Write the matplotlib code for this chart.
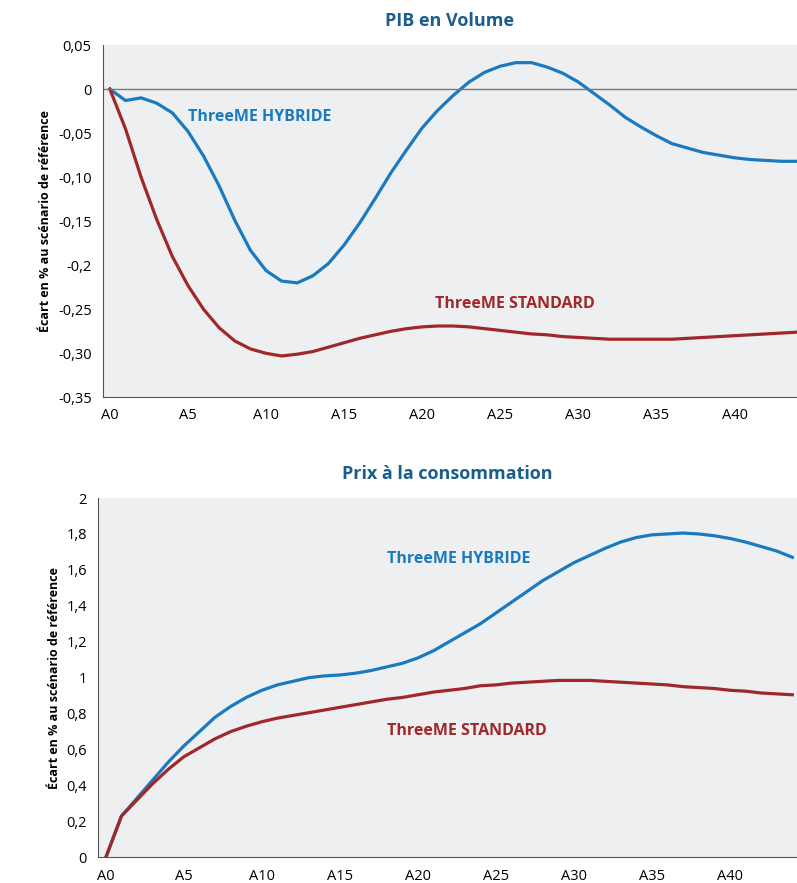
import numpy as np
import matplotlib.pyplot as plt

years = np.arange(45)
pib_hybride = [0, -0.013, -0.01, -0.016, -0.027, -0.048, -0.076, -0.11, -0.149, -0.183,
               -0.206, -0.218, -0.22, -0.212, -0.198, -0.177, -0.152, -0.124, -0.095, -0.069,
               -0.044, -0.024, -0.007, 0.008, 0.019, 0.026, 0.03, 0.03, 0.025, 0.018,
               0.008, -0.005, -0.018, -0.032, -0.043, -0.053, -0.062, -0.067, -0.072, -0.075,
               -0.078, -0.08, -0.081, -0.082, -0.082]
pib_standard = [0, -0.045, -0.1, -0.148, -0.19, -0.223, -0.25, -0.271, -0.286, -0.295,
                -0.3, -0.303, -0.301, -0.298, -0.293, -0.288, -0.283, -0.279, -0.275, -0.272,
                -0.27, -0.269, -0.269, -0.27, -0.272, -0.274, -0.276, -0.278, -0.279, -0.281,
                -0.282, -0.283, -0.284, -0.284, -0.284, -0.284, -0.284, -0.283, -0.282, -0.281,
                -0.28, -0.279, -0.278, -0.277, -0.276]
prix_hybride = [0, 0.23, 0.33, 0.43, 0.53, 0.62, 0.70, 0.78, 0.84, 0.89,
                0.93, 0.96, 0.98, 1.0, 1.01, 1.015, 1.025, 1.04, 1.06, 1.08,
                1.11, 1.15, 1.20, 1.25, 1.30, 1.36, 1.42, 1.48, 1.54, 1.59,
                1.64, 1.68, 1.72, 1.755, 1.78, 1.795, 1.80, 1.805, 1.80, 1.79,
                1.775, 1.755, 1.73, 1.705, 1.67]
prix_standard = [0, 0.23, 0.32, 0.41, 0.49, 0.56, 0.61, 0.66, 0.70, 0.73,
                 0.755, 0.775, 0.79, 0.805, 0.82, 0.835, 0.85, 0.865, 0.88, 0.89,
                 0.905, 0.92, 0.93, 0.94, 0.955, 0.96, 0.97, 0.975, 0.98, 0.985,
                 0.985, 0.985, 0.98, 0.975, 0.97, 0.965, 0.96, 0.95, 0.945, 0.94,
                 0.93, 0.925, 0.915, 0.91, 0.905]
pib_ticks = ["-0,35", "-0,30", "-0,25", "-0,2", "-0,15", "-0,10", "-0,05", "0", "0,05"]
prix_ticks = ["0", "0,2", "0,4", "0,6", "0,8", "1", "1,2", "1,4", "1,6", "1,8", "2"]

BLUE = "#1a7ac0"
RED = "#a0282a"
TITLE = "#1b5e8c"
plt.rcParams["font.family"] = ["Open Sans", "DejaVu Sans"]

fig = plt.figure(figsize=(7.97, 8.83), dpi=100)
ax1 = fig.add_axes([0.129, 0.550, 0.871, 0.399])
ax2 = fig.add_axes([0.123, 0.029, 0.877, 0.407])

xticks = np.arange(0, 41, 5)
for ax in (ax1, ax2):
    ax.set_facecolor("#eeeff0")
    ax.spines[["top", "right"]].set_visible(False)
    ax.spines[["left", "bottom"]].set_color("#555555")
    ax.set_xticks(xticks)
    ax.set_xticklabels(["A%d" % t for t in xticks], fontsize=10.5)
    ax.tick_params(labelsize=10.5, length=0, pad=8)
    ax.set_ylabel("Écart en % au scénario de référence", fontsize=9, fontweight="bold")

ax1.plot(years, pib_hybride, color=BLUE, lw=2.3)
ax1.plot(years, pib_standard, color=RED, lw=2.3)
ax1.axhline(0, color="#777777", lw=1)
ax1.set_xlim(-0.45, 44)
ax1.set_ylim(-0.35, 0.05)
ax1.set_yticks(np.linspace(-0.35, 0.05, 9))
ax1.set_yticklabels(pib_ticks)
ax1.set_title("PIB en Volume", color=TITLE, fontsize=13, fontweight="bold", pad=14)
ax1.text(5, -0.036, "ThreeME HYBRIDE", color=BLUE, fontsize=11.5, fontweight="bold")
ax1.text(20.8, -0.248, "ThreeME STANDARD", color=RED, fontsize=11.5, fontweight="bold")

ax2.plot(years, prix_hybride, color=BLUE, lw=2.3)
ax2.plot(years, prix_standard, color=RED, lw=2.3)
ax2.set_xlim(-0.5, 44.3)
ax2.set_ylim(0, 2)
ax2.set_yticks(np.linspace(0, 2, 11))
ax2.set_yticklabels(prix_ticks)
ax2.set_title("Prix à la consommation", color=TITLE, fontsize=13, fontweight="bold", pad=14)
ax2.text(18, 1.64, "ThreeME HYBRIDE", color=BLUE, fontsize=11.5, fontweight="bold")
ax2.text(18, 0.68, "ThreeME STANDARD", color=RED, fontsize=11.5, fontweight="bold")

fig.savefig("out.png", dpi=100)
